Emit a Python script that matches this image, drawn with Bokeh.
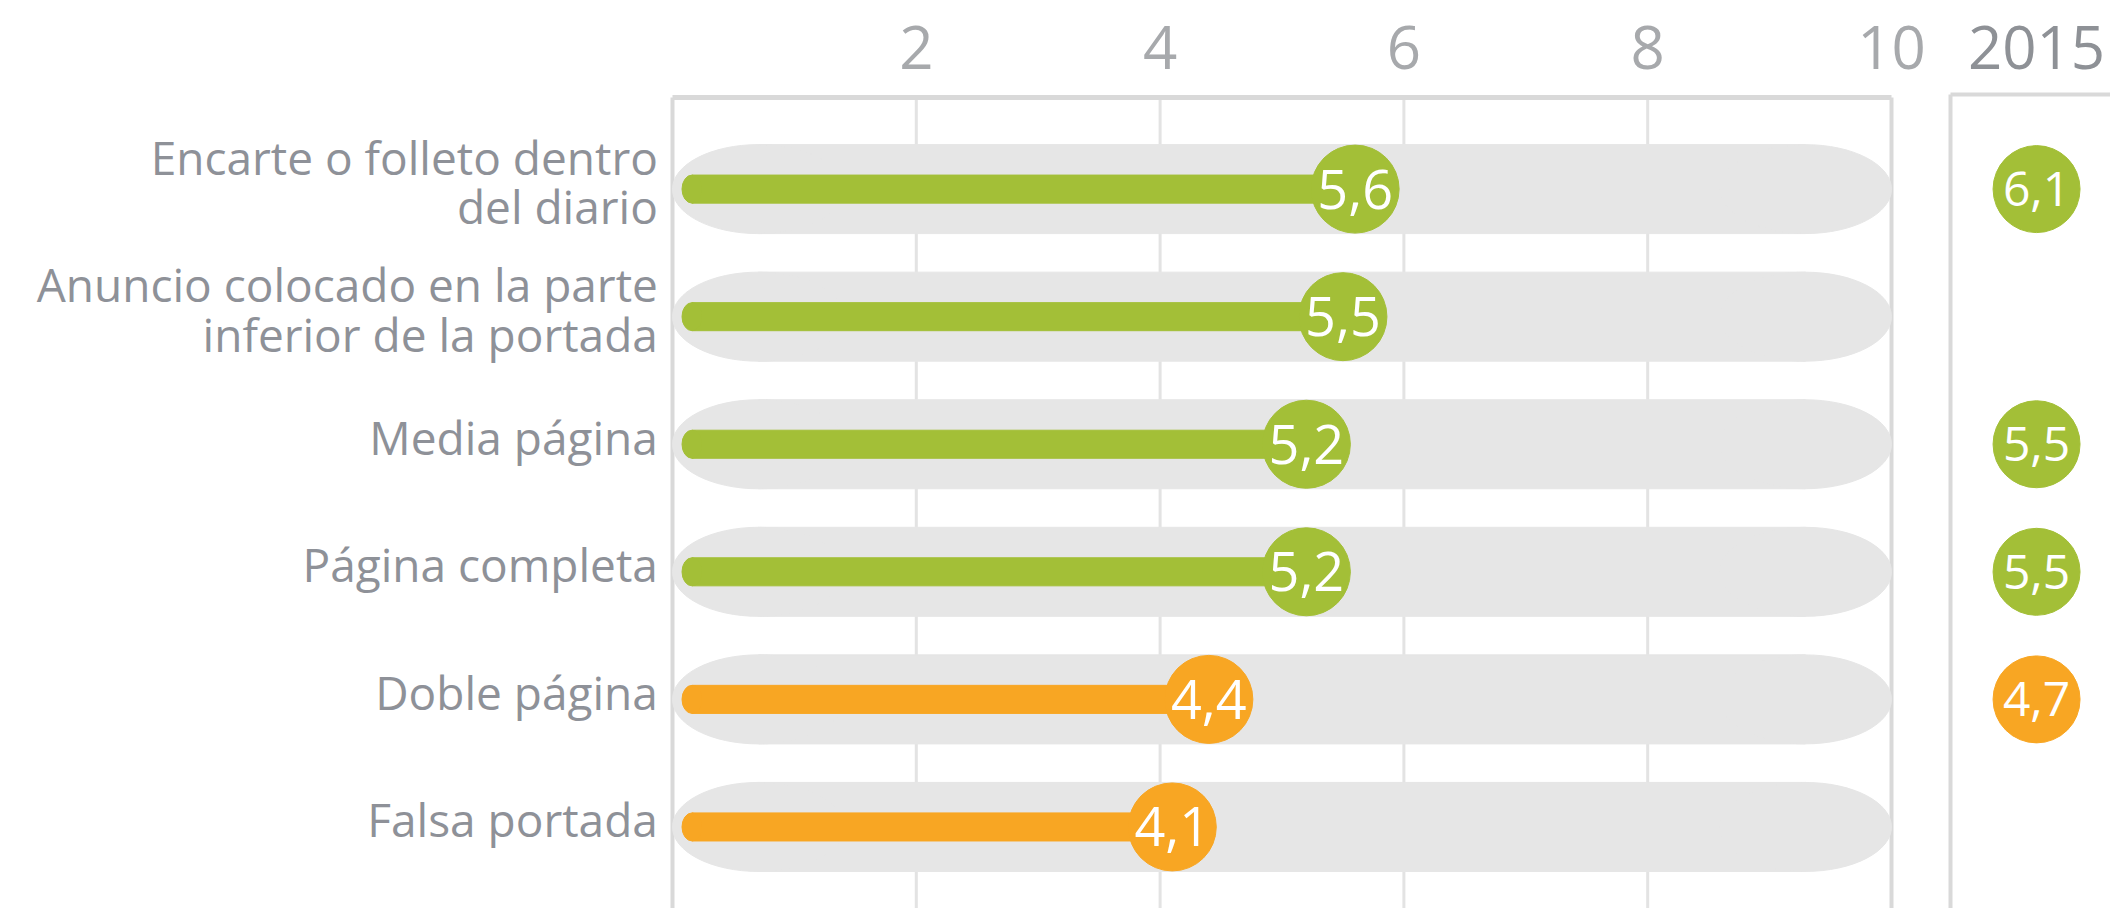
from bokeh.plotting import figure
from bokeh.models import Range1d, ColumnDataSource
from bokeh.core.properties import value
from bokeh.embed import file_html
from bokeh.resources import INLINE

# ---- data ----
categories = [
    "Encarte o folleto dentro\ndel diario",
    "Anuncio colocado en la parte\ninferior de la portada",
    "Media página",
    "Página completa",
    "Doble página",
    "Falsa portada",
]
scores = [5.6, 5.5, 5.2, 5.2, 4.4, 4.1]
scores_2015 = [6.1, None, 5.5, 5.5, 4.7, None]
tick_values = [2, 4, 6, 8, 10]
year_label = "2015"

# ---- style ----
GREEN = "#a3bf37"
ORANGE = "#f8a623"
PILL = "#e6e6e6"
FRAME = "#d9d9d9"
GRID = "#e3e3e3"
LABEL = "#8e9198"
TICK = "#a7a9ac"
YEAR = "#8e9196"
FONT = value("Open Sans")

THRESH = 5.0
def col(v):
    return GREEN if v >= THRESH else ORANGE

def fmt(v):
    return f"{v:.1f}".replace(".", ",")

rows = list(range(len(categories)))

W, H = 2110, 908
PX_X, PX_Y = 121.9, 127.57
X0 = -672 / PX_X
X1 = X0 + W / PX_X
Y_TOP = -188.6 / PX_Y
Y_BOTTOM = Y_TOP + H / PX_Y
FRAME_TOP = -0.718
PANEL_TOP = -0.742
PANEL_X = 10.484
PANEL_CX = 11.19
TICK_Y = -1.11
LABEL_X = -0.12
LABEL_DY = -0.06
CAP = 0.705
PILL_H = 0.698
BAR_H = 0.22
BAR_START = 0.16

p = figure(width=W, height=H,
           x_range=Range1d(X0, X1), y_range=Range1d(Y_BOTTOM, Y_TOP),
           x_axis_type=None, y_axis_type=None,
           toolbar_location=None, output_backend="svg",
           min_border=0, outline_line_color=None)
p.background_fill_color = "white"
p.border_fill_color = "white"

# gridlines (inner ticks)
xmax = max(tick_values)
inner = [t for t in tick_values if t < xmax]
p.segment(x0=inner, y0=[FRAME_TOP] * len(inner), x1=inner, y1=[Y_BOTTOM + 1] * len(inner),
          line_color=GRID, line_width=3)

# main frame
p.segment(x0=[0, xmax], y0=[FRAME_TOP, FRAME_TOP], x1=[0, xmax], y1=[Y_BOTTOM + 1] * 2,
          line_color=FRAME, line_width=4)
p.segment(x0=[0], y0=[FRAME_TOP], x1=[xmax], y1=[FRAME_TOP], line_color=FRAME, line_width=5)

# 2015 panel frame
p.segment(x0=[PANEL_X], y0=[PANEL_TOP], x1=[PANEL_X], y1=[Y_BOTTOM + 1], line_color=FRAME, line_width=4)
p.segment(x0=[PANEL_X], y0=[PANEL_TOP], x1=[X1 + 1], y1=[PANEL_TOP], line_color=FRAME, line_width=4)

# background pills
n = len(rows)
p.hbar(y=rows, left=[CAP] * n, right=[xmax - CAP] * n, height=PILL_H, color=PILL)
p.ellipse(x=[CAP] * n, y=rows, width=2 * CAP, height=PILL_H, color=PILL)
p.ellipse(x=[xmax - CAP] * n, y=rows, width=2 * CAP, height=PILL_H, color=PILL)

# bars
colors = [col(v) for v in scores]
src = ColumnDataSource(dict(y=rows, v=scores, c=colors, t=[fmt(v) for v in scores],
                            s=[BAR_START] * n))
p.hbar(y="y", left="s", right="v", height=BAR_H, color="c", source=src)
p.ellipse(x="s", y="y", width=0.164, height=BAR_H, color="c", source=src)
p.scatter(x="v", y="y", size=88, marker="circle", color="c", source=src)
p.text(x="v", y="y", text="t", text_align="center", text_baseline="middle",
       text_color="white", text_font_size="54px", text_font=FONT, source=src)

# 2015 column
idx = [i for i, v in enumerate(scores_2015) if v is not None]
v15 = [scores_2015[i] for i in idx]
src15 = ColumnDataSource(dict(y=idx, x=[PANEL_CX] * len(idx), c=[col(v) for v in v15],
                              t=[fmt(v) for v in v15]))
p.scatter(x="x", y="y", size=87, marker="circle", color="c", source=src15)
p.text(x="x", y="y", text="t", text_align="center", text_baseline="middle",
       text_color="white", text_font_size="48px", text_font=FONT, source=src15)

# category labels
p.text(x=[LABEL_X] * n, y=[r + LABEL_DY for r in rows], text=categories,
       text_align="right", text_baseline="middle",
       text_color=LABEL, text_font_size="46px", text_font=FONT, text_line_height=0.8)

# tick labels
p.text(x=tick_values, y=[TICK_Y] * len(tick_values), text=[str(t) for t in tick_values],
       text_align="center", text_baseline="middle", text_color=TICK,
       text_font_size="60px", text_font=FONT)
p.text(x=[PANEL_CX], y=[TICK_Y], text=[year_label], text_align="center", text_baseline="middle",
       text_color=YEAR, text_font_size="60px", text_font=FONT)

open("out.html", "w").write(file_html(p, INLINE))
